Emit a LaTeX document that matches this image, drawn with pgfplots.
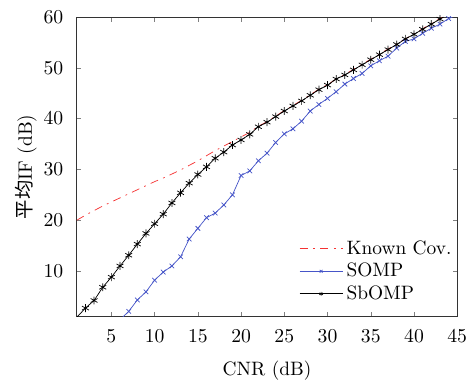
\documentclass[border=0pt]{standalone}
\usepackage{pgfplots}
\pgfplotsset{compat=1.18}
\usepackage{fontspec}
\newfontfamily\cjk{Noto Sans CJK SC}
\definecolor{somp}{RGB}{70,85,200}
\definecolor{kred}{RGB}{245,50,50}
\newcommand\fs{\fontsize{10.8}{13}\selectfont}
\begin{document}
\begin{tikzpicture}
\begin{axis}[
  scale only axis,
  width=212pt, height=167pt,
  xmin=1, xmax=45, ymin=1, ymax=60,
  xtick={5,10,...,45}, ytick={10,20,...,60},
  tick align=inside,
  major tick length=2.5pt,
  axis line style={black!80},
  tick label style={font=\fs},
  label style={font=\fs},
  xticklabel style={yshift=-4pt},
  yticklabel style={xshift=-4pt},
  xlabel={CNR (dB)},
  ylabel={{\cjk 平均}IF (dB)},
  xlabel style={yshift=-3pt},
  ylabel style={yshift=-3pt},
  legend style={draw=none, fill=none, at={(1.0,0.03)}, anchor=south east, font=\fs, row sep=-0.5pt, inner sep=1pt},
  legend cell align=left,
  legend image code/.code={\draw[mark repeat=2,mark phase=2,#1] plot coordinates {(0cm,0cm)(0.42cm,0cm)(0.84cm,0cm)};},
  legend image post style={mark size=1.1pt},
  clip=true,
]
\addplot[kred, thin, dash pattern=on 4.5pt off 3pt on 1pt off 3pt] coordinates {
(1,20.0)(2,21.0)(3,21.9)(4,22.8)(5,23.6)(6,24.4)(7,25.2)(8,26.0)(9,26.8)(10,27.6)
(11,28.3)(12,29.1)(13,29.9)(14,30.8)(15,31.7)(16,32.7)(17,33.7)(18,34.6)(19,35.5)(20,36.4)
(21,37.3)(22,38.5)(23,39.4)(24,40.5)(25,41.6)(26,42.6)(27,43.6)(28,44.7)(29,45.8)(30,46.7)
(31,47.8)(32,48.7)(33,49.7)(34,50.7)(35,51.7)(36,52.7)(37,53.7)(38,54.7)(39,55.7)(40,56.7)
(41,57.7)(42,58.7)(43,59.7)(44,60.6)
};
\addlegendentry{Known Cov.}
\addplot[somp, thin, mark=x, mark size=1.8pt] coordinates {
(6,0.4)(7,2.05)(8,4.3)(9,5.9)(10,8.2)(11,9.8)(12,11.0)(13,12.8)(14,16.3)(15,18.4)
(16,20.5)(17,21.4)(18,23.0)(19,25.0)(20,28.8)(21,29.7)(22,31.7)(23,33.2)(24,35.3)(25,37.0)
(26,38.0)(27,39.5)(28,41.5)(29,42.8)(30,44.0)(31,45.3)(32,46.8)(33,47.9)(34,48.9)(35,50.4)
(36,51.4)(37,52.3)(38,53.9)(39,55.2)(40,55.7)(41,56.8)(42,57.8)(43,58.6)(44,59.7)(45,60.4)
};
\addlegendentry{SOMP}
\addplot[black, thin, mark=asterisk, mark size=2.2pt] coordinates {
(1,0.9)(2,2.7)(3,4.2)(4,6.8)(5,8.8)(6,11.0)(7,13.1)(8,15.3)(9,17.4)(10,19.3)
(11,21.2)(12,23.4)(13,25.4)(14,27.3)(15,29.0)(16,30.5)(17,32.2)(18,33.4)(19,34.8)(20,35.8)
(21,36.9)(22,38.4)(23,39.3)(24,40.4)(25,41.5)(26,42.5)(27,43.5)(28,44.6)(29,45.7)(30,46.6)
(31,47.8)(32,48.6)(33,49.6)(34,50.6)(35,51.6)(36,52.6)(37,53.6)(38,54.6)(39,55.7)(40,56.6)
(41,57.6)(42,58.6)(43,59.6)(44,60.6)
};
\addlegendentry{SbOMP}
\end{axis}
\pgfresetboundingbox
\path ([shift={(-42.8pt,-35pt)}]current axis.south west) rectangle ([shift={(6pt,9.5pt)}]current axis.north east);
\end{tikzpicture}
\end{document}
